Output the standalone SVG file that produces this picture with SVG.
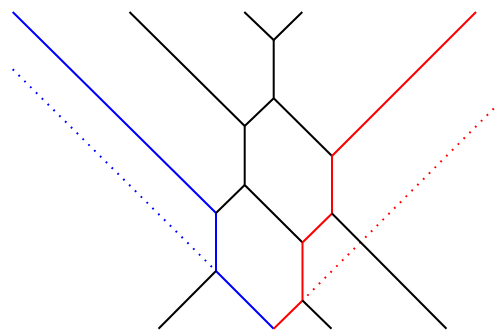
<svg xmlns="http://www.w3.org/2000/svg" width="497" height="331" viewBox="0 0 497 331">
<style>
.e{fill:none;stroke-width:2;stroke-linejoin:miter;stroke-linecap:butt}
.k{stroke:#000}
.b{stroke:#0000ff}
.r{stroke:#ff0000}
.d{fill:none;stroke-width:2;stroke-dasharray:1.8 6.4}
</style>
<rect width="497" height="331" fill="#fff"/>
<g id="connectors">
<path class="e b" d="M12.7,12 L216,213 L216,271 L273.7,328.7"/>
<path class="d b" d="M12.7,69.3 L216,271"/>
<path class="e k" d="M129.5,12 L244.7,126 L244.7,185 L302.5,242.5"/>
<path class="e k" d="M244.7,185 L216,213"/>
<path class="e k" d="M244.3,12 L273.7,40 L302.3,12"/>
<path class="e k" d="M273.7,40 L273.7,98.3 L244.7,126"/>
<path class="e k" d="M273.7,98.3 L332,156"/>
<path class="e r" d="M476,12 L332,156 L332,213.5 L302.5,242.5 L302.5,300.5 L273.7,328.7"/>
<path class="d r" d="M493.8,108.5 L302.5,300.5"/>
<path class="e k" d="M332,213.5 L446.5,328.7"/>
<path class="e k" d="M216,271 L158.5,328.7"/>
<path class="e k" d="M302.5,300.5 L331.5,328.7"/>
</g>
</svg>
